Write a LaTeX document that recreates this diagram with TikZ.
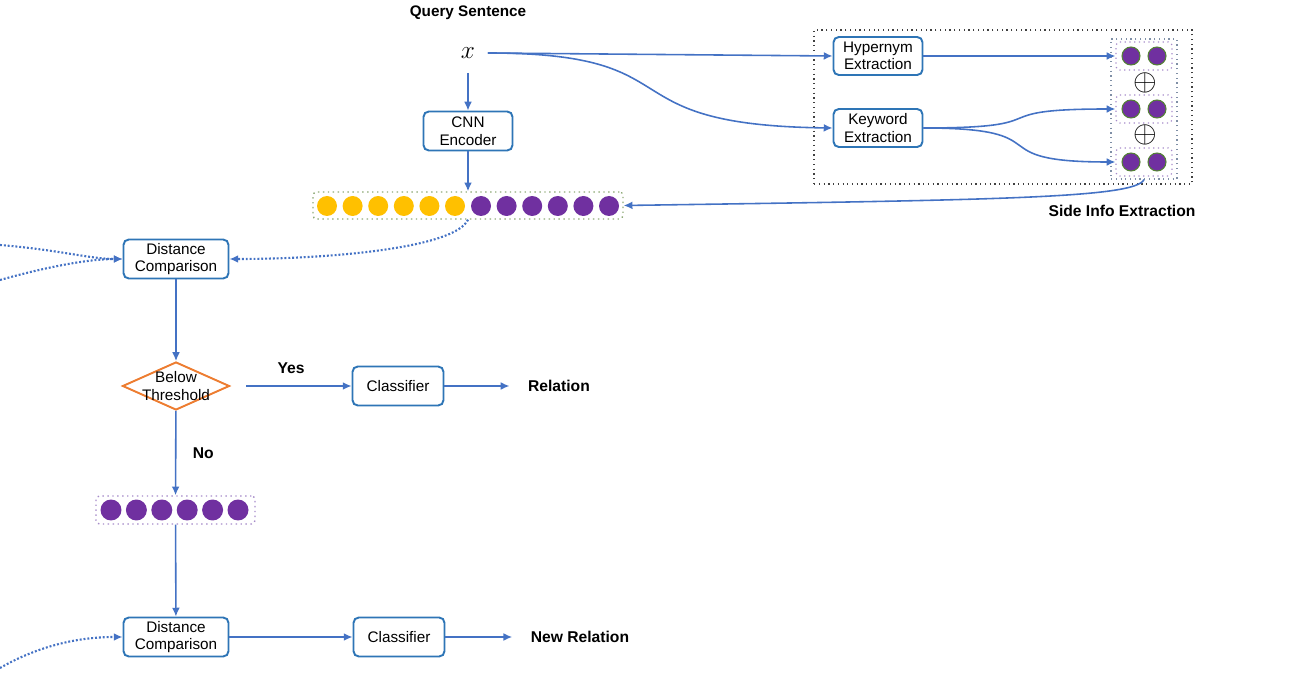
\documentclass[tikz,border=0pt]{standalone}
\usepackage{fontspec}
\setmainfont{Liberation Sans}
\usetikzlibrary{shapes.geometric,arrows.meta}
\definecolor{boxblue}{HTML}{2E75B6}
\definecolor{flowblue}{HTML}{4472C4}
\definecolor{dotyellow}{HTML}{FFC000}
\definecolor{dotpurple}{HTML}{7030A0}
\definecolor{dotgreen}{HTML}{548235}
\definecolor{vecgreen}{HTML}{8FAA78}
\definecolor{vecpurple}{HTML}{A68BC9}
\definecolor{stackgray}{HTML}{7F8FA6}
\definecolor{decorange}{HTML}{ED7D31}
\tikzset{
  box/.style={draw=boxblue, line width=1.1pt, rounded corners=3pt, align=center,
    inner sep=1pt, minimum width=2.1cm, minimum height=0.78cm},
  decision/.style={diamond, draw=decorange, line width=1.1pt, inner sep=0pt,
    minimum width=2.14cm, minimum height=0.96cm},
  flow/.style={flowblue, line width=0.9pt, -{Latex[length=5pt,width=4.5pt]}},
  dotflow/.style={flow, line width=1.2pt, dash pattern=on 1.1pt off 1.1pt},
  label/.style={text=black, font=\fontsize{8.9}{11}\selectfont\bfseries}
}
\begin{document}
\begin{tikzpicture}[x=0.02cm, y=-0.02cm, every node/.append style={font=\fontsize{8.7}{10}\selectfont}]
  \useasboundingbox (0,0) rectangle (1291,678);

  \node[font=\fontsize{8.7}{10}\selectfont\bfseries] (query) at (468,13) {Query Sentence};
  \node[minimum size=0.78cm, inner sep=0pt, font=\fontsize{15}{15}\selectfont] (x) at (468,53) {$x$};
  \node[box, minimum width=1.78cm] (cnn) at (468,131) {CNN\\Encoder};

  % sentence vector
  \node[draw=vecgreen, dotted, line width=0.8pt, rounded corners=2pt, minimum width=6.2cm, minimum height=0.54cm] (vec) at (468,205.5) {};
  \foreach \i in {0,...,5} {
    \fill[dotyellow] (327+25.6*\i,206) circle (0.2cm);
    \fill[dotpurple] (481+25.6*\i,206) circle (0.2cm);
  }

  % side info extraction
  \node[draw=black!75, dotted, line width=0.7pt, minimum width=7.56cm, minimum height=3.08cm] (side) at (1003,107) {};
  \node[label] at (1122,211) {Side Info Extraction};
  \node[box, minimum width=1.78cm, minimum height=0.76cm] (hyper) at (878,56) {Hypernym\\Extraction};
  \node[box, minimum width=1.78cm, minimum height=0.76cm] (keyword) at (878,128) {Keyword\\Extraction};
  \node[draw=stackgray, dotted, line width=0.7pt, minimum width=1.32cm, minimum height=2.8cm] (stack) at (1144,109) {};
  \foreach \name/\y in {hypvec/56, kwvecA/109, kwvecB/162} {
    \node[draw=vecpurple, dotted, line width=0.7pt, rounded corners=2pt, minimum width=1.12cm, minimum height=0.56cm] (\name) at (1144,\y) {};
    \filldraw[fill=dotpurple, draw=dotgreen, line width=0.6pt] (1131,\y) circle (0.18cm);
    \filldraw[fill=dotpurple, draw=dotgreen, line width=0.6pt] (1157,\y) circle (0.18cm);
  }
  \node[inner sep=0pt, font=\fontsize{19}{19}\selectfont] (plusA) at (1145,83) {$\oplus$};
  \node[inner sep=0pt, font=\fontsize{19}{19}\selectfont] (plusB) at (1145,135) {$\oplus$};

  % decision flow
  \node[box] (distA) at (176,259) {Distance\\Comparison};
  \node[decision] (thresh) at (176,386) {};
  \node[align=center, inner sep=0pt] (threshtext) at (176,386) {Below\\Threshold};
  \node[box, minimum width=1.82cm] (clsA) at (398,386) {Classifier};
  \node[label] (rel) at (559,386) {Relation};
  \node[draw=vecpurple, dotted, line width=0.8pt, rounded corners=2pt, minimum width=3.18cm, minimum height=0.56cm] (newvec) at (175.5,510) {};
  \foreach \i in {0,...,5}
    \fill[dotpurple] (111+25.4*\i,510) circle (0.21cm);
  \node[box] (distB) at (176,637) {Distance\\Comparison};
  \node[box, minimum width=1.82cm] (clsB) at (399,637) {Classifier};
  \node[label] (newrel) at (580,637) {New Relation};

  \coordinate (protoA) at (0,245);
  \coordinate (protoB) at (0,280);
  \coordinate (protoC) at (0,668);

  \draw[flow] (x) -- (cnn);
  \draw[flow] (cnn) -- (vec);
  \draw[flow] (x.east) -- (hyper.west);
  \draw[flow] (x.east) .. controls (700,53) and (600,125) .. (keyword.west);
  \draw[flow] (hyper.east) -- (hypvec.west);
  \draw[flow] (keyword.east) .. controls (1065,128) and (975,109) .. (kwvecA.west);
  \draw[flow] (keyword.east) .. controls (1065,128) and (975,162) .. (kwvecB.west);
  \draw[flow] (stack.south) .. controls (1135,198) and (1000,200) .. (vec.east);
  \draw[dotflow] (vec.south) .. controls (455,248) and (330,259) .. (distA.east);
  \draw[dotflow] (protoA) .. controls (60,250) and (90,259) .. (distA.west);
  \draw[dotflow] (protoB) .. controls (50,266) and (90,259) .. (distA.west);
  \draw[flow] (distA) -- (thresh);
  \draw[flow, shorten <=0.32cm] (thresh.east) -- node[midway, above=3pt, label] {Yes} (clsA.west);
  \draw[flow, shorten >=0.25cm] (clsA.east) -- (rel.west);
  \draw[flow] (thresh) -- node[midway, right=6pt, label] {No} (newvec);
  \draw[flow] (newvec) -- (distB);
  \draw[dotflow] (protoC) .. controls (40,645) and (80,637) .. (distB.west);
  \draw[flow] (distB) -- (clsB);
  \draw[flow, shorten >=0.25cm] (clsB.east) -- (newrel.west);
\end{tikzpicture}
\end{document}
